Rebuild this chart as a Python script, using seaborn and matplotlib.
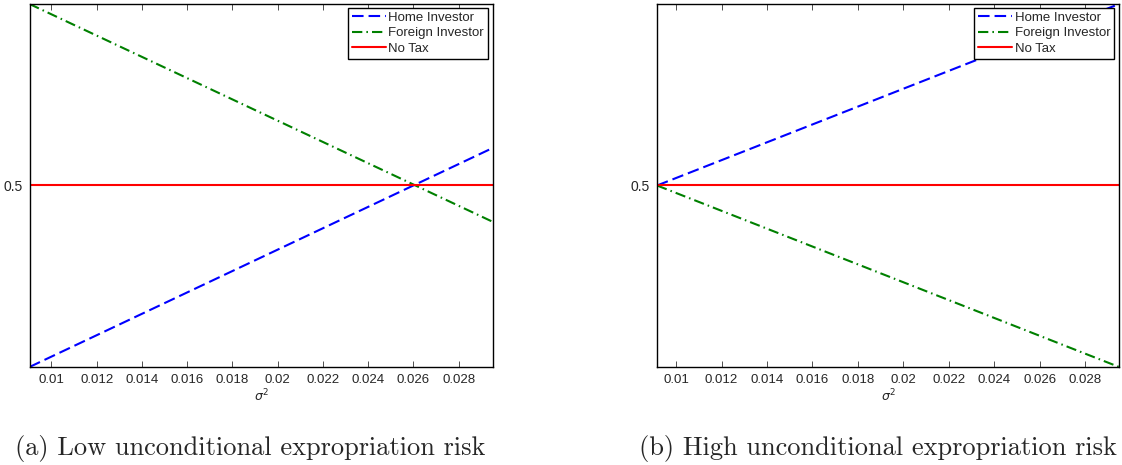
import matplotlib
matplotlib.use("Agg")
import matplotlib.pyplot as plt
import seaborn as sns
import pandas as pd

# ---- data ----
# panel (a): low unconditional expropriation risk
sigma2_a = [0.00903, 0.0295]
home_a = [0.350, 0.531]
foreign_a = [0.650, 0.470]
notax_a = [0.5, 0.5]

# panel (b): high unconditional expropriation risk
sigma2_b = [0.00916, 0.0295]
home_b = [0.500, 0.650]
foreign_b = [0.500, 0.350]
notax_b = [0.5, 0.5]

xticks = [0.01, 0.012, 0.014, 0.016, 0.018, 0.02, 0.022, 0.024, 0.026, 0.028]
xticklabels = ["0.01", "0.012", "0.014", "0.016", "0.018", "0.02", "0.022", "0.024", "0.026", "0.028"]
yticks = [0.5]
yticklabels = ["0.5"]
series_names = ["Home Investor", "Foreign Investor", "No Tax"]
captions = ["(a) Low unconditional expropriation risk", "(b) High unconditional expropriation risk"]

sns.set_style("white")
plt.rcParams["font.family"] = ["Liberation Sans", "DejaVu Sans"]

fig = plt.figure(figsize=(11.22, 4.65), dpi=100)
ax_a = fig.add_axes([0.0263, 0.2108, 0.4128, 0.7806])
ax_b = fig.add_axes([0.5856, 0.2108, 0.4118, 0.7806])

styles = {
    "Home Investor": dict(color=(0, 0, 1), dashes=(3.7, 1.6)),
    "Foreign Investor": dict(color=(0, 0.5, 0), dashes=(3.3, 1.3, 0.5, 1.3)),
    "No Tax": dict(color=(1, 0, 0), dashes=None),
}

def draw(ax, x, home, foreign, notax, caption, cx):
    df = pd.DataFrame({
        "sigma2": list(x) * 3,
        "value": list(home) + list(foreign) + list(notax),
        "series": [series_names[0]] * len(x) + [series_names[1]] * len(x) + [series_names[2]] * len(x),
    })
    for name in series_names:
        sub = df[df["series"] == name]
        st = styles[name]
        line_kw = dict(color=st["color"], linewidth=1.5, label=name)
        sns.lineplot(data=sub, x="sigma2", y="value", ax=ax, estimator=None, sort=False, **line_kw)
        ln = ax.get_lines()[-1]
        if st["dashes"] is not None:
            ln.set_dashes([d * 1.5 for d in st["dashes"]])
    ax.set_xlim(x[0], x[-1])
    ax.set_ylim(0.35, 0.65)
    ax.set_xticks(xticks)
    ax.set_xticklabels(xticklabels, fontsize=9.5)
    ax.set_yticks(yticks)
    ax.set_yticklabels(yticklabels, fontsize=10)
    ax.tick_params(direction="in", length=4, width=0.6, top=True, right=True,
                   bottom=True, left=True, color="#333333", pad=5)
    ax.set_xlabel(r"$\sigma^2$", fontsize=9, labelpad=1)
    ax.set_ylabel("")
    for s in ax.spines.values():
        s.set_color("black")
        s.set_linewidth(1.0)
    leg = ax.legend(loc="upper right", bbox_to_anchor=(0.99, 0.99), fontsize=9.5, frameon=True,
                    fancybox=False, edgecolor="black", framealpha=1, borderpad=0.3,
                    labelspacing=0.25, handlelength=2.6, handletextpad=0.2, borderaxespad=0.0)
    leg.get_frame().set_linewidth(1.0)
    fig.text(cx, 0.036, caption, fontsize=19, family="cmr10", ha="center", va="center")

draw(ax_a, sigma2_a, home_a, foreign_a, notax_a, captions[0], 250 / 1122)
draw(ax_b, sigma2_b, home_b, foreign_b, notax_b, captions[1], 878 / 1122)

fig.savefig("out.png", dpi=100)
